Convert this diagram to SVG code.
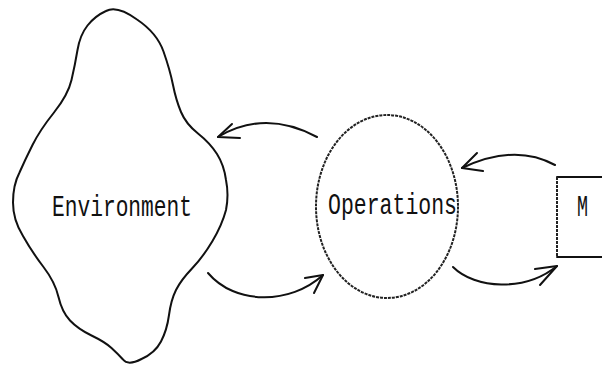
<svg xmlns="http://www.w3.org/2000/svg" width="602" height="365" viewBox="0 0 602 365">
<style>
.line{fill:none;stroke:#111;stroke-width:2;stroke-linecap:round;stroke-linejoin:round}
.dot{fill:none;stroke:#222;stroke-width:2;stroke-dasharray:3 1}
.lbl{font-family:"Liberation Mono","Courier New",monospace;font-size:30px;fill:#111}
</style>
<rect width="602" height="365" fill="#fff"/>
<g id="environment">
<path class="line" d="M106,11 Q117,5 137,19.5 Q157,33 163.5,51.5 Q170,70 173,85 Q176,100 181,112 Q186,124 198,133.5 Q210,143 217,154 Q224,165 226,180 Q229,195 226,210 Q222,225 212.5,241 Q203,257 192,268.5 Q181,280 176,290 Q171,300 169,315 Q167,330 161,341.5 Q155,353 141.5,359 Q128,366 123,359.5 Q118,354 111.5,348 Q105,342 91.5,335.5 Q78,329 70,320.5 Q62,312 58.5,297 Q55,282 43.5,267 Q32,252 23,236 Q13,220 13,202.5 Q13,185 19.5,172.5 Q25,160 32.5,145 Q40,130 54,112.5 Q68,95 71.5,80 Q75,65 77.5,50 Q80,35 87.5,25.5 Q95,16 106,11 Z"/>
<text class="lbl" x="52" y="216" textLength="140" lengthAdjust="spacingAndGlyphs">Environment</text>
</g>
<g id="operations">
<ellipse class="dot" cx="387" cy="206.5" rx="71" ry="91.5"/>
<text class="lbl" x="328" y="214" textLength="129" lengthAdjust="spacingAndGlyphs">Operations</text>
</g>
<g id="m">
<path class="line" stroke-width="1.6" d="M604,177 H557"/>
<path class="line" stroke-width="1.6" d="M557,257 H604"/>
<path class="dot" stroke-width="1.2" d="M557,177 V257"/>
<text class="lbl" x="577" y="216" textLength="11" lengthAdjust="spacingAndGlyphs">M</text>
</g>
<g id="connectors">
<path class="line" d="M317,137 Q265,109 218,137"/>
<path class="line" d="M232,124 L218,137 L240,138"/>
<path class="line" d="M208,273 C235,305 290,305 323,275"/>
<path class="line" d="M305,278 L323,275 L314,293"/>
<path class="line" d="M555,165 Q515,143 462,168"/>
<path class="line" d="M477,153 L462,168 L483,171"/>
<path class="line" d="M453,267 C475,289 525,292 557,266"/>
<path class="line" d="M535,269 L557,266 L540,285"/>
</g>
</svg>
